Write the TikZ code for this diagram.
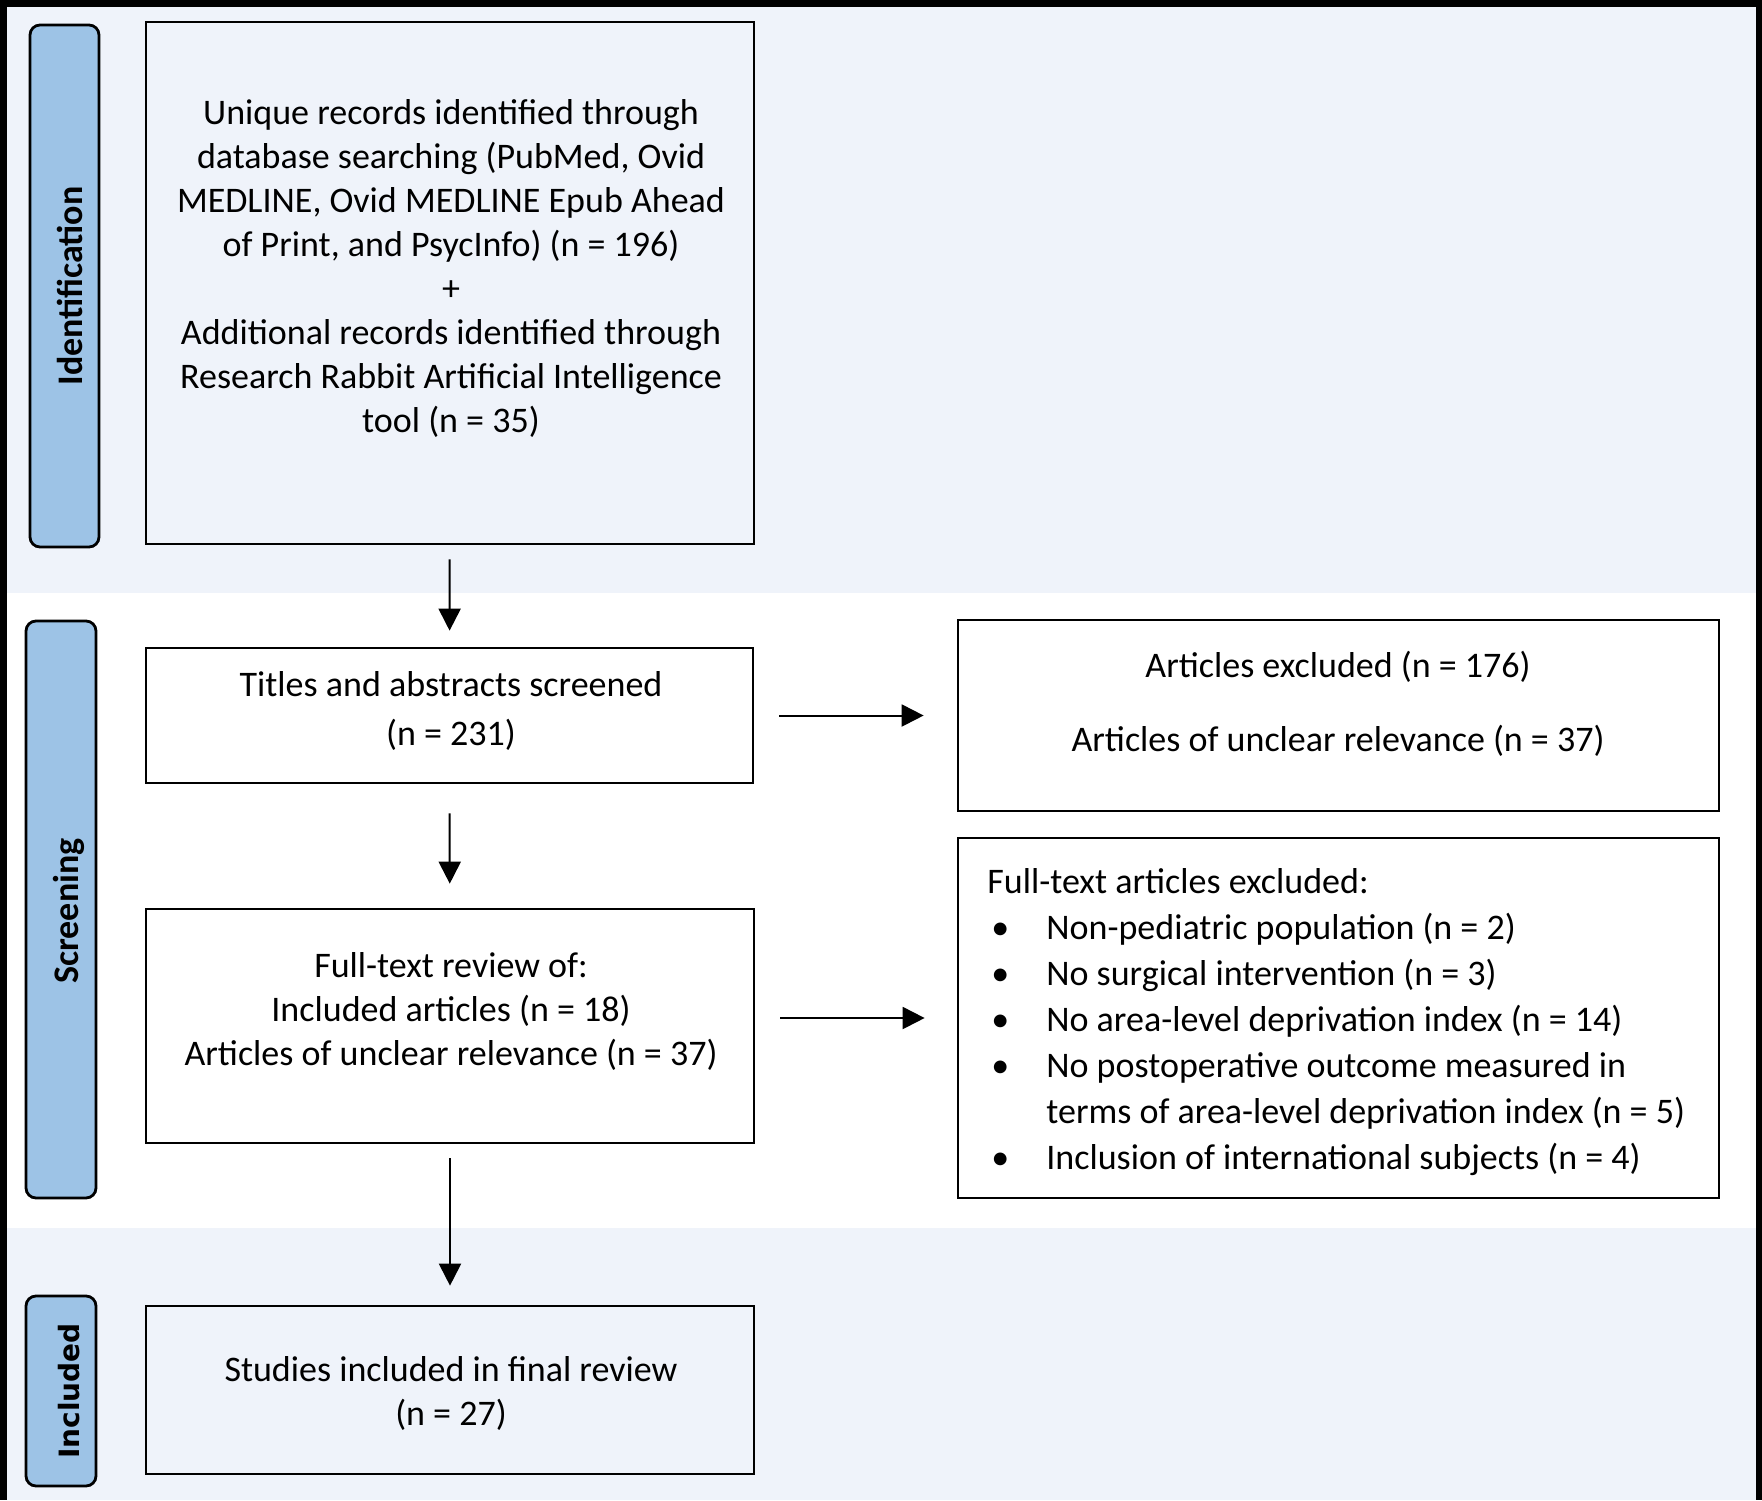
\documentclass[tikz,border=0pt]{standalone}
\usepackage{fontspec}
\setmainfont{Carlito}
\newfontfamily\dejavu{DejaVu Sans}
\usetikzlibrary{arrows.meta}
\definecolor{bandblue}{RGB}{239,243,250}
\definecolor{sidefill}{RGB}{157,195,230}
\begin{document}
\begin{tikzpicture}[x=0.5pt,y=-0.5pt,
  box/.style={draw=black, line width=1.35pt, inner sep=0pt},
  side/.style={draw=black, line width=1.4pt, fill=sidefill, rounded corners=5pt, inner sep=0pt},
  sidetxt/.style={rotate=90, font=\fontsize{18}{22}\selectfont\bfseries, inner sep=0pt},
  txt/.style={align=center, font=\fontsize{18}{22}\selectfont, inner sep=0pt},
  arr/.style={-{Triangle[length=11pt,width=11pt]}, line width=1pt}]
\useasboundingbox (0,0) rectangle (1762,1500);
% frame and bands
\fill[black] (0,0) rectangle (1762,1500);
\fill[bandblue] (7,7) rectangle (1756,593);
\fill[white] (7,593) rectangle (1756,1228);
\fill[bandblue] (7,1228) rectangle (1756,1500);
% sidebars
\node[side, minimum width=34.5pt, minimum height=261pt] (s1) at (64.5,286) {};
\node[side, minimum width=35pt, minimum height=288.5pt] (s2) at (61,909.5) {};
\node[side, minimum width=35pt, minimum height=95pt] (s3) at (61,1391) {};
\node[sidetxt] (l1) at (70,286) {Identification};
\node[sidetxt] (l2) at (69,911) {Screening};
\node[sidetxt, font=\dejavu\fontsize{14}{17}\selectfont\bfseries] (l3) at (69,1391) {Included};
% boxes
\node[box, minimum width=304pt, minimum height=261pt] (b1) at (450,283) {};
\node[box, minimum width=303.5pt, minimum height=67.5pt] (b2) at (449.5,715.5) {};
\node[box, minimum width=304pt, minimum height=117pt] (b3) at (450,1026) {};
\node[box, minimum width=304pt, minimum height=84pt] (b4) at (450,1390) {};
\node[box, minimum width=380.5pt, minimum height=95.5pt] (b5) at (1338.5,715.5) {};
\node[box, minimum width=380.5pt, minimum height=180pt] (b6) at (1338.5,1018) {};
% texts
\node[txt] (t1) at (451,268) {Unique records identified through\\database searching (PubMed, Ovid\\MEDLINE, Ovid MEDLINE Epub Ahead\\of Print, and PsycInfo) (n = 196)\\+\\Additional records identified through\\Research Rabbit Artificial Intelligence\\tool (n = 35)};
\node[txt, font=\fontsize{18}{24.5}\selectfont] (t2) at (451,711) {Titles and abstracts screened\\(n = 231)};
\node[txt] (t3) at (451,1011) {Full-text review of:\\Included articles (n = 18)\\Articles of unclear relevance (n = 37)};
\node[txt] (t4) at (451,1393) {Studies included in final review\\(n = 27)};
\node[txt] (t5) at (1338,704) {Articles excluded (n = 176)\\[15pt]Articles of unclear relevance (n = 37)};
\node[txt, align=left, anchor=west, font=\fontsize{18}{23}\selectfont] (t6) at (987,1022) {Full-text articles excluded:\\
\hspace*{2pt}\makebox[27.5pt][l]{•}Non-pediatric population (n = 2)\\
\hspace*{2pt}\makebox[27.5pt][l]{•}No surgical intervention (n = 3)\\
\hspace*{2pt}\makebox[27.5pt][l]{•}No area-level deprivation index (n = 14)\\
\hspace*{2pt}\makebox[27.5pt][l]{•}No postoperative outcome measured in\\
\hspace*{29.5pt}terms of area-level deprivation index (n = 5)\\
\hspace*{2pt}\makebox[27.5pt][l]{•}Inclusion of international subjects (n = 4)};
% arrows
\draw[arr, shorten <=7pt, shorten >=8pt] (b1) -- (b2);
\draw[arr, shorten <=14.5pt, shorten >=12pt] (b2) -- (b3);
\draw[arr, shorten <=7pt, shorten >=9.5pt] (b3) -- (b4);
\draw[arr, shorten <=12.5pt, shorten >=16.5pt] (b2) -- (b5);
\draw[arr, shorten <=12.5pt, shorten >=16pt] (b3.east |- b6.west) -- (b6.west);
\end{tikzpicture}
\end{document}
